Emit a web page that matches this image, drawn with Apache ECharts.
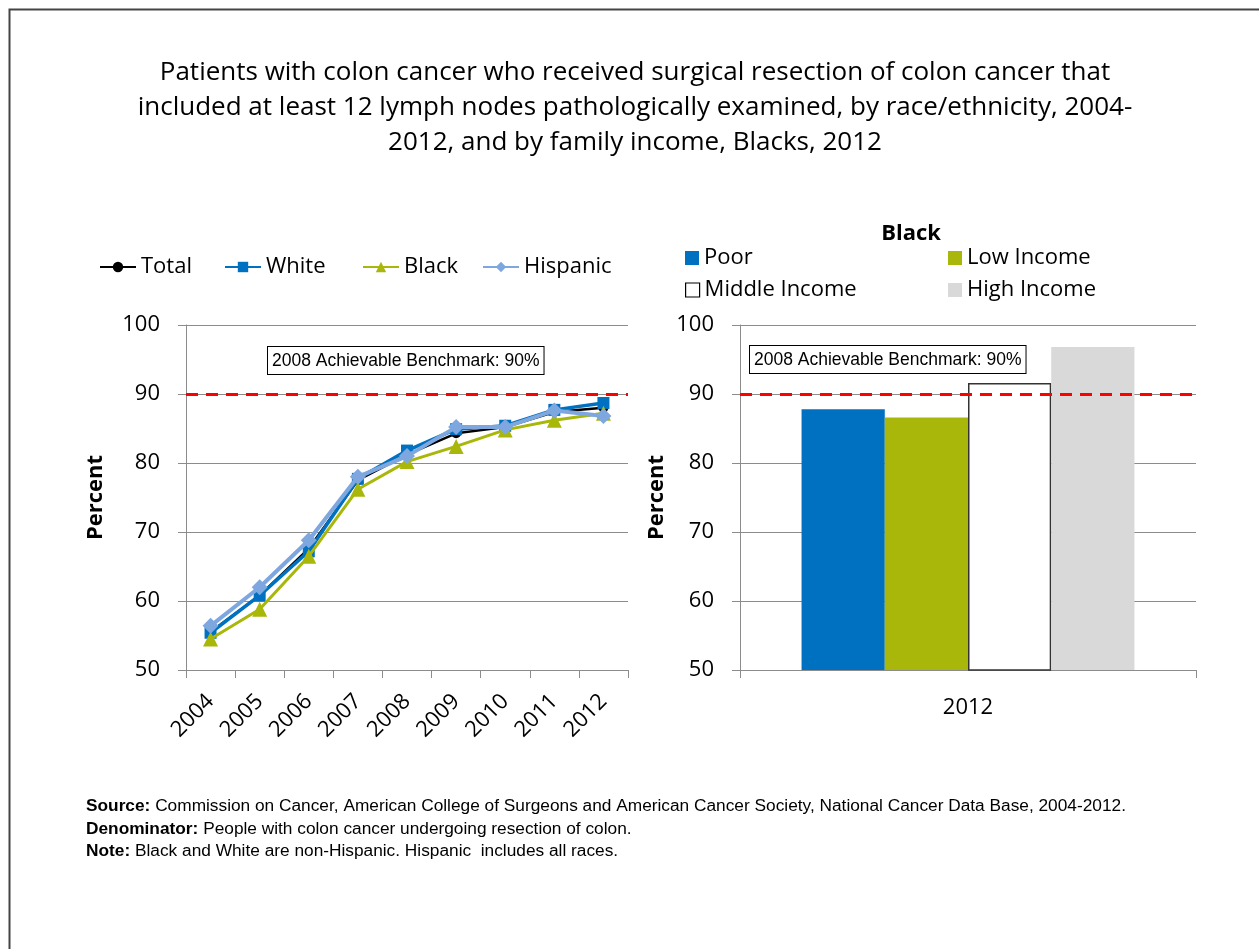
<!DOCTYPE html>
<html>
<head>
<meta charset="utf-8">
<script src="https://cdn.jsdelivr.net/npm/echarts@6/dist/echarts.min.js"></script>
<style>
  html, body { margin: 0; padding: 0; background: #fff; }
  #chart { width: 1259px; height: 949px; }
</style>
</head>
<body>
<div id="chart"></div>
<script>
// data
const years = ['2004', '2005', '2006', '2007', '2008', '2009', '2010', '2011', '2012'];
const totalValues = [55.5, 60.8, 67.6, 77.5, 81.2, 84.3, 85.2, 87.4, 88.0];
const whiteValues = [55.4, 60.8, 67.2, 77.7, 81.8, 84.9, 85.4, 87.7, 88.7];
const blackValues = [54.5, 58.8, 66.5, 76.2, 80.2, 82.4, 84.8, 86.2, 87.2];
const hispanicValues = [56.4, 62.0, 68.8, 78.0, 81.0, 85.2, 85.2, 87.6, 86.8];

const incomeYear = ['2012'];
const incomeGroups = ['Poor', 'Low Income', 'Middle Income', 'High Income'];
const incomeValues = [87.8, 86.6, 91.6, 96.8];

const benchmark = 90;
const yTicks = { min: 50, max: 100, interval: 10 };

const FONT = '"Open Sans"';
const GREY = '#8c8c8c';

const chart = echarts.init(document.getElementById('chart'));

function yAxisDef(gridIndex, nameGap) {
  return {
    gridIndex: gridIndex,
    type: 'value',
    min: yTicks.min, max: yTicks.max, interval: yTicks.interval,
    name: 'Percent',
    nameLocation: 'middle',
    nameGap: nameGap,
    nameRotate: 90,
    nameTextStyle: { fontFamily: FONT, fontSize: 22, fontWeight: 'bold', color: '#000' },
    axisLine: { show: true, lineStyle: { color: GREY, width: 1 } },
    axisTick: { show: true, length: 8, lineStyle: { color: GREY } },
    axisLabel: { fontFamily: FONT, fontSize: 22, color: '#000', margin: 26 },
    splitLine: { show: true, lineStyle: { color: GREY, width: 1 } }
  };
}

const benchLine = {
  silent: true,
  symbol: 'none',
  label: { show: false },
  lineStyle: { color: '#ff0000', type: [12, 8], width: 3 },
  data: [{ yAxis: benchmark }]
};

const lineSeries = [
  { name: 'Total', data: totalValues, color: '#000000', symbol: 'circle', symbolSize: 10, width: 2.5 },
  { name: 'White', data: whiteValues, color: '#0070C0', symbol: 'rect', symbolSize: 12, width: 3.5 },
  { name: 'Black', data: blackValues, color: '#A8B70A', symbol: 'triangle', symbolSize: 15, width: 3 },
  { name: 'Hispanic', data: hispanicValues, color: '#7EA7E0', symbol: 'diamond', symbolSize: 16, width: 4 }
].map((s, i) => ({
  name: s.name,
  type: 'line',
  xAxisIndex: 0,
  yAxisIndex: 0,
  data: s.data,
  symbol: s.symbol,
  symbolSize: s.symbolSize,
  color: s.color,
  lineStyle: { color: s.color, width: s.width },
  itemStyle: { color: s.color },
  markLine: i === 0 ? benchLine : undefined,
  z: 3 + i
}));

const barColors = ['#0070C0', '#A8B70A', '#ffffff', '#D9D9D9'];
const barSeries = incomeGroups.map((g, i) => ({
  name: g,
  type: 'bar',
  xAxisIndex: 1,
  yAxisIndex: 1,
  data: [incomeValues[i]],
  barGap: '0%',
  barCategoryGap: '27%',
  itemStyle: {
    color: barColors[i],
    borderColor: g === 'Middle Income' ? '#333' : barColors[i],
    borderWidth: g === 'Middle Income' ? 1.5 : 0
  },
  markLine: i === 0 ? benchLine : undefined
}));

// one legend per item to place them like the original
const lineLegendLeft = [94, 219, 357, 477];
const lineLegends = lineSeries.map((s, i) => ({
  data: [s.name],
  left: lineLegendLeft[i],
  top: 251,
  itemWidth: 36,
  itemHeight: 13,
  itemGap: 0,
  textStyle: { fontFamily: FONT, fontSize: 22, color: '#000' },
  selectedMode: false
}));

const barLegendPos = [[680, 242], [943, 242], [680, 274], [943, 274]];
const barLegends = incomeGroups.map((g, i) => ({
  data: [{
    name: g,
    icon: 'rect',
    itemStyle: g === 'Middle Income' ? { color: '#fff', borderColor: '#000', borderWidth: 1.2 } : undefined
  }],
  left: barLegendPos[i][0],
  top: barLegendPos[i][1],
  itemWidth: 14,
  itemHeight: 14,
  textStyle: { fontFamily: FONT, fontSize: 22, color: '#000' },
  selectedMode: false
}));

function benchBox(x, y) {
  return {
    type: 'text',
    left: x, top: y,
    style: {
      text: '2008 Achievable Benchmark: 90%',
      font: '17.5px "Liberation Sans", Arial',
      fill: '#000',
      backgroundColor: '#fff',
      borderColor: '#000',
      borderWidth: 1,
      padding: [5, 4, 4, 4]
    },
    z: 100
  };
}

const footBase = { fontFamily: 'Liberation Sans', fontSize: 17.3, fill: '#000' };
function footLine(y, txt) {
  return {
    type: 'text',
    left: 86, top: y,
    style: Object.assign({}, footBase, {
      text: txt,
      rich: { b: { fontFamily: 'Liberation Sans', fontSize: 17.3, fontWeight: 'bold' } }
    })
  };
}

const option = {
  backgroundColor: '#fff',
  animation: false,
  title: [{
    text: 'Patients with colon cancer who received surgical resection of colon cancer that\nincluded at least 12 lymph nodes pathologically examined, by race/ethnicity, 2004-\n2012, and by family income, Blacks, 2012',
    left: 630,
    top: 50,
    textAlign: 'center',
    textStyle: { fontFamily: FONT, fontSize: 26, fontWeight: 'normal', color: '#000', lineHeight: 35 }
  }, {
    text: 'Black',
    left: 906,
    top: 218,
    textAlign: 'center',
    textStyle: { fontFamily: FONT, fontSize: 22, fontWeight: 'bold', color: '#000' }
  }],
  legend: lineLegends.concat(barLegends),
  grid: [
    { left: 186, top: 325, width: 442, height: 345 },
    { left: 740, top: 325, width: 456, height: 345 }
  ],
  xAxis: [{
    gridIndex: 0,
    type: 'category',
    data: years,
    boundaryGap: true,
    axisLine: { lineStyle: { color: GREY } },
    axisTick: { show: true, length: 8, lineStyle: { color: GREY } },
    axisLabel: { fontFamily: FONT, fontSize: 22, color: '#000', rotate: 45, margin: 28 }
  }, {
    gridIndex: 1,
    type: 'category',
    data: incomeYear,
    boundaryGap: true,
    axisLine: { lineStyle: { color: GREY } },
    axisTick: { show: true, length: 8, lineStyle: { color: GREY } },
    axisLabel: { fontFamily: FONT, fontSize: 22, color: '#000', margin: 27 }
  }],
  yAxis: [yAxisDef(0, 79), yAxisDef(1, 72)],
  series: lineSeries.concat(barSeries),
  graphic: [
    {
      type: 'rect',
      shape: { x: 9.5, y: 9.5, width: 1400, height: 1100 },
      style: { fill: 'none', stroke: '#444', lineWidth: 2 },
      silent: true
    },
    benchBox(267, 346),
    benchBox(749, 345),
    footLine(798, '{b|Source:} Commission on Cancer, American College of Surgeons and American Cancer Society, National Cancer Data Base, 2004-2012.'),
    footLine(821, '{b|Denominator:} People with colon cancer undergoing resection of colon.'),
    footLine(843, '{b|Note:} Black and White are non-Hispanic. Hispanic  includes all races.')
  ]
};

chart.setOption(option);
</script>
</body>
</html>
